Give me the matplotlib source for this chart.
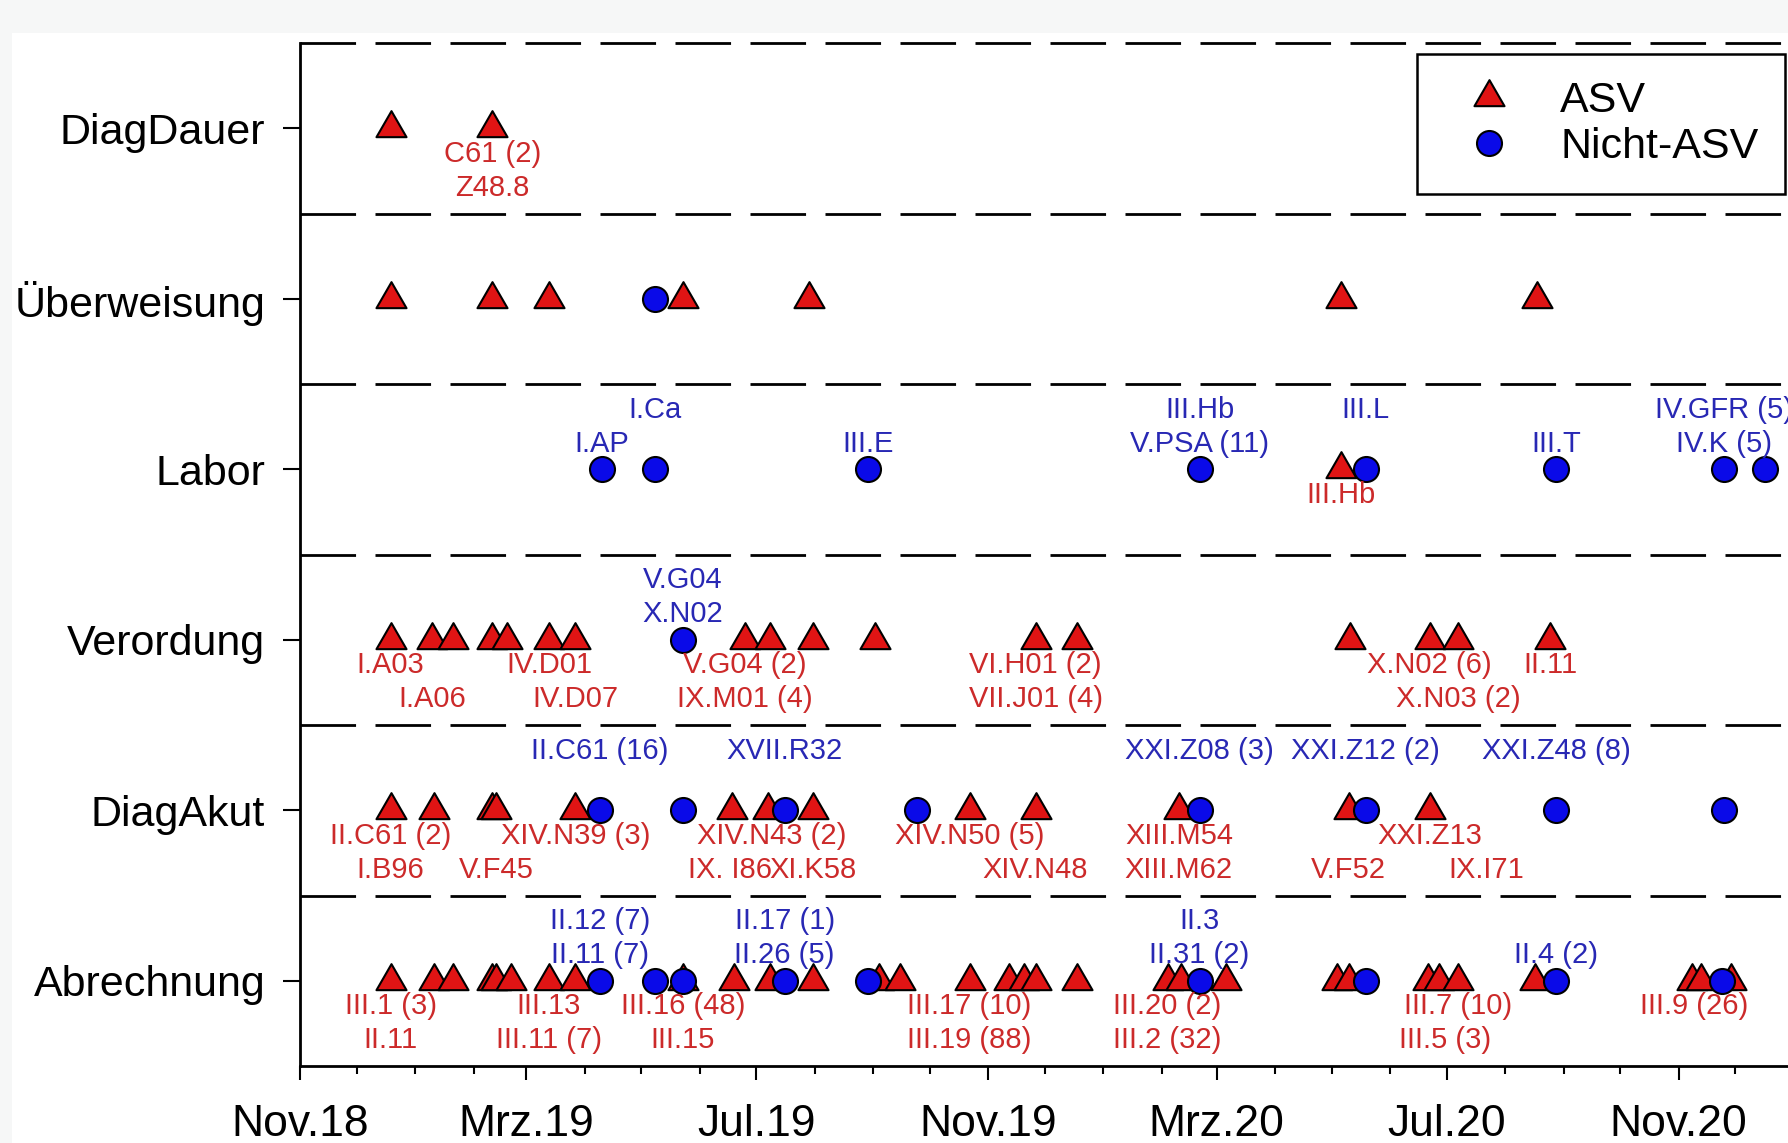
import pandas as pd
import matplotlib
matplotlib.use("Agg")
import matplotlib.pyplot as plt
import matplotlib.dates as mdates
from matplotlib.path import Path
from matplotlib.lines import Line2D
from matplotlib.patches import Rectangle

plt.rcParams['font.family'] = ['Liberation Sans', 'DejaVu Sans']

# rows, top to bottom
categories = ["DiagDauer", "Überweisung", "Labor", "Verordung", "DiagAkut", "Abrechnung"]

# label line: +1/+2 above the row (Nicht-ASV), -1/-2 below (ASV)
dauer_asv = ["2018-12-19", "2019-02-11"]
dauer_nicht = []
dauer_labels = [("2019-02-11", "C61 (2)", -1), ("2019-02-11", "Z48.8", -2)]

ueberw_asv = ["2018-12-19", "2019-02-11", "2019-03-13", "2019-05-23", "2019-07-29",
              "2020-05-06", "2020-08-18"]
ueberw_nicht = ["2019-05-08"]
ueberw_labels = []

labor_asv = ["2020-05-06"]
labor_nicht = ["2019-04-10", "2019-05-08", "2019-08-29", "2020-02-21", "2020-05-19",
               "2020-08-28", "2020-11-25", "2020-12-17"]
labor_labels = [("2019-04-10", "I.AP", 1), ("2019-05-08", "I.Ca", 2),
                ("2019-08-29", "III.E", 1), ("2020-02-21", "V.PSA (11)", 1),
                ("2020-02-21", "III.Hb", 2), ("2020-05-19", "III.L", 2),
                ("2020-08-28", "III.T", 1), ("2020-11-25", "IV.K (5)", 1),
                ("2020-11-25", "IV.GFR (5)", 2), ("2020-05-06", "III.Hb", -1)]

verord_asv = ["2018-12-19", "2019-01-10", "2019-01-21", "2019-02-11", "2019-02-19",
              "2019-03-13", "2019-03-27", "2019-06-25", "2019-07-08", "2019-07-31",
              "2019-09-02", "2019-11-26", "2019-12-18", "2020-05-11", "2020-06-22",
              "2020-07-07", "2020-08-25"]
verord_nicht = ["2019-05-23"]
verord_labels = [("2019-05-23", "X.N02", 1), ("2019-05-23", "V.G04", 2),
                 ("2018-12-19", "I.A03", -1), ("2019-01-10", "I.A06", -2),
                 ("2019-03-13", "IV.D01", -1), ("2019-03-27", "IV.D07", -2),
                 ("2019-06-25", "V.G04 (2)", -1), ("2019-06-25", "IX.M01 (4)", -2),
                 ("2019-11-26", "VI.H01 (2)", -1), ("2019-11-26", "VII.J01 (4)", -2),
                 ("2020-06-22", "X.N02 (6)", -1), ("2020-07-07", "X.N03 (2)", -2),
                 ("2020-08-25", "II.11", -1)]

akut_asv = ["2018-12-19", "2019-01-11", "2019-02-11", "2019-02-13", "2019-03-27",
            "2019-06-18", "2019-07-07", "2019-07-31", "2019-10-22", "2019-11-26",
            "2020-02-10", "2020-05-10", "2020-06-22"]
akut_nicht = ["2019-04-09", "2019-05-23", "2019-07-16", "2019-09-24", "2020-02-21",
              "2020-05-19", "2020-08-28", "2020-11-25"]
akut_labels = [("2019-04-09", "II.C61 (16)", 2), ("2019-07-16", "XVII.R32", 2),
               ("2020-02-21", "XXI.Z08 (3)", 2), ("2020-05-19", "XXI.Z12 (2)", 2),
               ("2020-08-28", "XXI.Z48 (8)", 2),
               ("2018-12-19", "II.C61 (2)", -1), ("2018-12-19", "I.B96", -2),
               ("2019-02-13", "V.F45", -2), ("2019-03-27", "XIV.N39 (3)", -1),
               ("2019-07-09", "XIV.N43 (2)", -1), ("2019-06-17", "IX. I86", -2),
               ("2019-07-31", "XI.K58", -2), ("2019-10-22", "XIV.N50 (5)", -1),
               ("2019-11-26", "XIV.N48", -2), ("2020-02-10", "XIII.M54", -1),
               ("2020-02-10", "XIII.M62", -2), ("2020-05-10", "V.F52", -2),
               ("2020-06-22", "XXI.Z13", -1), ("2020-07-22", "IX.I71", -2)]

abr_asv = ["2018-12-19", "2019-01-11", "2019-01-21", "2019-02-11", "2019-02-13",
           "2019-02-21", "2019-03-13", "2019-03-27", "2019-05-23", "2019-06-19",
           "2019-07-08", "2019-07-31", "2019-09-04", "2019-09-15", "2019-10-22",
           "2019-11-12", "2019-11-20", "2019-11-26", "2019-12-18", "2020-02-04",
           "2020-02-11", "2020-03-06", "2020-05-04", "2020-05-10", "2020-06-21",
           "2020-06-27", "2020-07-07", "2020-08-17", "2020-11-08", "2020-11-13",
           "2020-11-29"]
abr_nicht = ["2019-04-09", "2019-05-08", "2019-05-23", "2019-07-16", "2019-08-29",
             "2020-02-21", "2020-05-19", "2020-08-28", "2020-11-24"]
abr_labels = [("2019-04-09", "II.11 (7)", 1), ("2019-04-09", "II.12 (7)", 2),
              ("2019-07-16", "II.26 (5)", 1), ("2019-07-16", "II.17 (1)", 2),
              ("2020-02-21", "II.31 (2)", 1), ("2020-02-21", "II.3", 2),
              ("2020-08-28", "II.4 (2)", 1),
              ("2018-12-19", "III.1 (3)", -1), ("2018-12-19", "II.11", -2),
              ("2019-03-13", "III.13", -1), ("2019-03-13", "III.11 (7)", -2),
              ("2019-05-23", "III.16 (48)", -1), ("2019-05-23", "III.15", -2),
              ("2019-10-22", "III.17 (10)", -1), ("2019-10-22", "III.19 (88)", -2),
              ("2020-02-04", "III.20 (2)", -1), ("2020-02-04", "III.2 (32)", -2),
              ("2020-07-07", "III.7 (10)", -1), ("2020-06-30", "III.5 (3)", -2),
              ("2020-11-09", "III.9 (26)", -1)]

rows = [(dauer_asv, dauer_nicht, dauer_labels),
        (ueberw_asv, ueberw_nicht, ueberw_labels),
        (labor_asv, labor_nicht, labor_labels),
        (verord_asv, verord_nicht, verord_labels),
        (akut_asv, akut_nicht, akut_labels),
        (abr_asv, abr_nicht, abr_labels)]

RED = '#e01414'
BLUE = '#0a0ae8'
RED_TXT = '#cc2a2a'
BLUE_TXT = '#2828b4'
line_off = {1: 0.15, 2: 0.35, -1: -0.15, -2: -0.35}

# equilateral triangle, centred on its centroid
tri = Path([(-1, -0.577), (1, -0.577), (0, 1.155), (-1, -0.577)],
           [Path.MOVETO, Path.LINETO, Path.LINETO, Path.CLOSEPOLY])

W, H = 1788, 1143
fig = plt.figure(figsize=(W / 100, H / 100), dpi=100)
fig.patch.set_facecolor('#f6f7f7')
fig.patches.append(Rectangle((12 / W, 0), 1, (H - 33) / H, transform=fig.transFigure,
                             facecolor='white', edgecolor='none', zorder=-10))
ax = fig.add_axes([300 / W, 77 / H, 1 - 300 / W, 1023 / H])

n = len(categories)
for i, (asv, nicht, labels) in enumerate(rows):
    y = n - i
    if asv:
        ax.plot(pd.to_datetime(asv), [y] * len(asv), linestyle='none', marker=tri,
                ms=25, mfc=RED, mec='black', mew=1.5, zorder=3, clip_on=False)
    if nicht:
        ax.plot(pd.to_datetime(nicht), [y] * len(nicht), linestyle='none', marker='o',
                ms=18, mfc=BLUE, mec='black', mew=1.5, zorder=4, clip_on=False)
    for d, txt, line in labels:
        ax.text(pd.Timestamp(d), y + line_off[line], txt, ha='center', va='center',
                fontsize=21, color=BLUE_TXT if line > 0 else RED_TXT, zorder=5)

for yb in [1.5, 2.5, 3.5, 4.5, 5.5, 6.5]:
    ax.axhline(yb, color='black', lw=2, dashes=(20, 7), clip_on=False, zorder=2)

start = pd.Timestamp("2018-11-01")
ax.set_xlim(start, start + pd.Timedelta(days=789))
ax.set_ylim(0.5, n + 0.5)

ax.set_yticks(range(n, 0, -1))
ax.set_yticklabels(categories)

month_names = {3: 'Mrz', 7: 'Jul', 11: 'Nov'}
ax.xaxis.set_major_locator(mdates.MonthLocator(bymonth=[3, 7, 11]))
ax.xaxis.set_minor_locator(mdates.MonthLocator())
ax.xaxis.set_major_formatter(plt.FuncFormatter(
    lambda x, pos: f"{month_names[mdates.num2date(x).month]}.{mdates.num2date(x):%y}"))

ax.tick_params(axis='y', length=12, width=1.5, pad=13, labelsize=31)
ax.tick_params(axis='x', which='major', length=10, width=1.5, pad=17, labelsize=32)
ax.tick_params(axis='x', which='minor', length=6, width=1.5)

for s in ['top', 'right']:
    ax.spines[s].set_visible(False)
for s in ['left', 'bottom']:
    ax.spines[s].set_linewidth(2)

handles = [Line2D([], [], linestyle='none', marker=tri, ms=25, mfc=RED, mec='black', mew=1.5),
           Line2D([], [], linestyle='none', marker='o', ms=18, mfc=BLUE, mec='black', mew=1.5)]
leg = ax.legend(handles, ["ASV", "Nicht-ASV"], loc='upper right',
                bbox_to_anchor=(1785 / W, 1 - 54 / H), bbox_transform=fig.transFigure,
                fontsize=31, frameon=True, fancybox=False, edgecolor='black',
                framealpha=1, borderpad=0.62, labelspacing=0.15, handlelength=2.1,
                handletextpad=0.6, borderaxespad=0)
leg.get_frame().set_linewidth(1.8)

fig.savefig("out.png", dpi=100)
